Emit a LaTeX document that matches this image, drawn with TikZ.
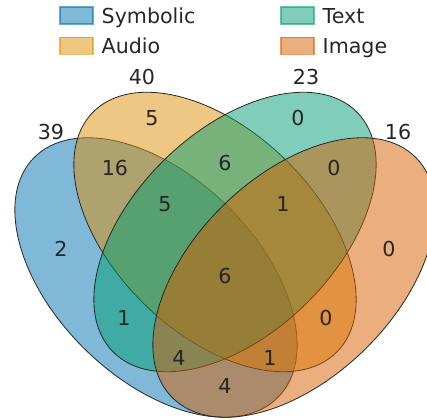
\documentclass[tikz,border=0pt]{standalone}
\usepackage{fontspec}
\setmainfont{DejaVu Sans}
\usepackage{xcolor}
\definecolor{symb}{HTML}{0173B2}
\definecolor{audio}{HTML}{DE8F05}
\definecolor{txt}{HTML}{029E73}
\definecolor{img}{HTML}{D55E00}
\tikzset{every picture/.style={x=1pt,y=-1pt},
  set/.style={draw=black!85, line width=0.8pt, fill opacity=0.5},
  num/.style={text=black!85, inner sep=0pt, font=\fontsize{20.6}{24}\selectfont},
  swatch/.style={rectangle, minimum width=33pt, minimum height=17pt, inner sep=0pt,
    line width=1.5pt, fill opacity=0.5, draw opacity=0.6},
  legtext/.style={num, anchor=base west}}

\begin{document}
\begin{tikzpicture}
        \useasboundingbox (0,0) rectangle (427,419);

        % the four sets
        \draw[set, fill=symb, rotate around={-44.4:(156,277.5)}] (156,277.5) ellipse (171 and 101);
        \draw[set, fill=audio, rotate around={-44.4:(215,232)}] (215,232) ellipse (171 and 101);
        \draw[set, fill=txt, rotate around={44.4:(235,232)}] (235,232) ellipse (171 and 101);
        \draw[set, fill=img, rotate around={44.4:(294,277.5)}] (294,277.5) ellipse (171 and 101);

        % legend
        \node[swatch, fill=symb, draw=symb] (symbsw) at (76.5,15.5) {};
        \node[swatch, fill=audio, draw=audio] (audiosw) at (76.5,46) {};
        \node[swatch, fill=txt, draw=txt] (txtsw) at (297.5,15.5) {};
        \node[swatch, fill=img, draw=img] (imgsw) at (297.5,46) {};
        \node[legtext] (symbtx) at (101.5,23.5) {Symbolic};
        \node[legtext] (audiotx) at (101.5,54) {Audio};
        \node[legtext] (txttx) at (322.5,23.5) {Text};
        \node[legtext] (imgtx) at (322.5,54) {Image};

        % set sizes
        \node[num] (nsymb) at (51,132) {39};
        \node[num] (naudio) at (142,77) {40};
        \node[num] (ntxt) at (306,77) {23};
        \node[num] (nimg) at (398,132) {16};

        % region counts
        \foreach \name/\x/\y/\val in {
          r1000/61/249/2, r0100/152/118/5, r0010/298/118/0, r0001/389/249/0,
          r1100/115/168/16, r0110/225/163/6, r0011/334/168/0,
          r1110/165/204/5, r0111/283/204/1, r1111/225/276/6,
          r1010/124/318/1, r0101/326/318/0,
          r1011/179/358/4, r1101/270/358/1, r1001/225/386/4}
        \node[num] (\name) at (\x,\y) {\val};
      \end{tikzpicture}
\end{document}
